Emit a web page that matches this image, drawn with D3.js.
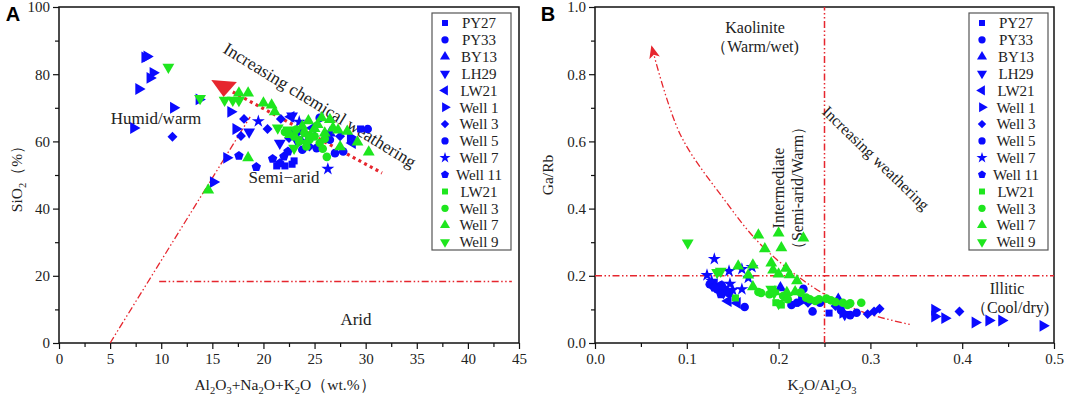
<!DOCTYPE html>
<html>
<head>
<meta charset="utf-8">
<script src="https://cdn.jsdelivr.net/npm/d3@7"></script>
<style>
  body { margin: 0; background: #fff; }
</style>
</head>
<body>
<div id="chart"></div>
<script>
// Legend entries, shared by both panels
const seriesNames = ["PY27", "PY33", "BY13", "LH29", "LW21", "Well 1", "Well 3", "Well 5", "Well 7", "Well 11", "LW21", "Well 3", "Well 7", "Well 9"];
const seriesShapes = ["square", "circle", "up", "down", "left", "right", "diamond", "circle", "star", "pentagon", "square", "circle", "up", "down"];
const seriesColors = ["blue", "blue", "blue", "blue", "blue", "blue", "blue", "blue", "blue", "blue", "green", "green", "green", "green"];

// Panel A: Al2O3+Na2O+K2O (wt.%) vs SiO2 (%)
const aPY27 = [[21.3, 52.7], [22.1, 52.7], [22.8, 53.2], [23.0, 54.2], [29.5, 63.7]];
const aPY33 = [[25.5, 67.0], [27.8, 57.0], [30.2, 63.7], [24.5, 61.0]];
const aBY13 = [[23.8, 63.0], [26.5, 62.5]];
const aLH29 = [[18.6, 62.8], [21.6, 59.5], [22.8, 67.6], [23.2, 60.5]];
const aLW21 = [[22.7, 67.3], [28.7, 59.5], [24.8, 64.0]];
const aWell1 = [[8.4, 85.0], [8.6, 85.3], [9.2, 80.4], [8.9, 78.9], [7.8, 75.6], [7.3, 64.0], [11.2, 70.0], [13.7, 72.5], [16.8, 68.8], [17.3, 63.7], [16.4, 55.1], [15.1, 47.9], [28.5, 61.3], [23.0, 62.0]];
const aWell3 = [[11.1, 61.4], [18.1, 66.7], [17.8, 61.6], [20.4, 63.7], [21.7, 66.7], [27.5, 61.5], [24.5, 58.5], [22.5, 61.0]];
const aWell5 = [[27.0, 56.5], [26.5, 60.5], [25.2, 58.0], [23.8, 57.5]];
const aWell7 = [[19.5, 66.0], [23.5, 65.8], [26.3, 51.8], [23.8, 60.0]];
const aWell11 = [[17.6, 55.7], [19.3, 52.4], [20.9, 54.8], [22.0, 55.5], [22.4, 57.0], [21.6, 53.5]];
const aGLW21 = [[23.5, 60.5]];
const aGWell3 = [[22.1, 62.8], [23.0, 61.5], [23.5, 60.0], [24.0, 62.5], [24.5, 60.5], [25.0, 61.5], [25.5, 59.5], [26.0, 60.8], [24.2, 58.5], [25.8, 57.8], [26.2, 55.4], [23.2, 63.5]];
const aGWell7 = [[14.6, 45.5], [18.5, 55.1], [17.6, 74.4], [18.5, 74.4], [20.0, 71.4], [20.8, 70.8], [21.1, 68.8], [25.7, 67.0], [24.4, 66.1], [26.8, 64.0], [27.3, 63.4], [27.5, 58.4], [29.2, 59.8], [30.3, 56.8], [23.8, 64.5], [25.0, 63.8], [25.3, 65.0], [26.0, 62.5], [24.6, 61.8], [26.5, 66.5], [28.2, 63.0], [22.6, 62.0]];
const aGWell9 = [[10.7, 82.1], [13.8, 72.8], [16.2, 72.3], [17.0, 72.3], [17.6, 72.2], [22.4, 63.4], [21.4, 64.0], [23.0, 58.0], [24.2, 59.5]];

// Panel B: K2O/Al2O3 vs Ga/Rb
const bPY27 = [[0.255, 0.089]];
const bPY33 = [[0.163, 0.107], [0.214, 0.113], [0.237, 0.094], [0.268, 0.097], [0.227, 0.161], [0.278, 0.083]];
const bBY13 = [[0.202, 0.164], [0.265, 0.130]];
const bLH29 = [[0.136, 0.160], [0.140, 0.150], [0.272, 0.085]];
const bLW21 = [[0.155, 0.119], [0.145, 0.125], [0.135, 0.170], [0.130, 0.175]];
const bWell1 = [[0.370, 0.099], [0.370, 0.079], [0.381, 0.074], [0.414, 0.061], [0.429, 0.067], [0.443, 0.067], [0.488, 0.051], [0.225, 0.125], [0.270, 0.090]];
const bWell3 = [[0.310, 0.102], [0.304, 0.094], [0.297, 0.086], [0.397, 0.094], [0.128, 0.168], [0.140, 0.155], [0.232, 0.120], [0.262, 0.110]];
const bWell5 = [[0.125, 0.175], [0.133, 0.160], [0.142, 0.158], [0.146, 0.148], [0.138, 0.172], [0.220, 0.120], [0.245, 0.120], [0.285, 0.090]];
const bWell7 = [[0.130, 0.250], [0.122, 0.202], [0.146, 0.214], [0.160, 0.220], [0.171, 0.226], [0.167, 0.194], [0.147, 0.176], [0.150, 0.158], [0.160, 0.160], [0.127, 0.185]];
const bWell11 = [[0.130, 0.165], [0.137, 0.145]];
const bGLW21 = [[0.153, 0.134], [0.203, 0.113], [0.197, 0.120]];
const bGWell3 = [[0.181, 0.149], [0.178, 0.152], [0.224, 0.150], [0.234, 0.130], [0.240, 0.125], [0.244, 0.130], [0.252, 0.132], [0.257, 0.127], [0.262, 0.122], [0.270, 0.120], [0.278, 0.118], [0.290, 0.120], [0.190, 0.145], [0.205, 0.140], [0.210, 0.130], [0.230, 0.135], [0.275, 0.113]];
const bGWell7 = [[0.178, 0.321], [0.200, 0.327], [0.227, 0.312], [0.185, 0.280], [0.203, 0.283], [0.192, 0.238], [0.172, 0.232], [0.156, 0.229], [0.167, 0.202], [0.194, 0.217], [0.200, 0.205], [0.208, 0.222], [0.212, 0.203], [0.220, 0.185], [0.172, 0.167], [0.209, 0.150], [0.218, 0.152], [0.196, 0.152]];
const bGWell9 = [[0.101, 0.298], [0.137, 0.214], [0.133, 0.210], [0.192, 0.160], [0.195, 0.148], [0.200, 0.118]];

// Guide lines (in data units)
const aDiagonal = [[5, 0], [18.7, 67.3]];
const aArid = [[9.8, 18.3], [44.3, 18.3]];
const aTrend = [[17.0, 74.7], [31.6, 50.6]];
const aArrowHead = [[14.9, 78.3], [17.4, 77.7], [16.1, 73.2]];
const bCurve = [[0.062, 0.88], [0.093, 0.62], [0.14, 0.43], [0.178, 0.30], [0.22, 0.20], [0.26, 0.13], [0.30, 0.085], [0.345, 0.054]];

const aTicksX = [0, 5, 10, 15, 20, 25, 30, 35, 40, 45];
const aTicksY = [0, 20, 40, 60, 80, 100];
const bTicksX = [0, 0.1, 0.2, 0.3, 0.4, 0.5];
const bTicksY = [0, 0.2, 0.4, 0.6, 0.8, 1.0];

const panelA = [aPY27, aPY33, aBY13, aLH29, aLW21, aWell1, aWell3, aWell5, aWell7, aWell11, aGLW21, aGWell3, aGWell7, aGWell9];
const panelB = [bPY27, bPY33, bBY13, bLH29, bLW21, bWell1, bWell3, bWell5, bWell7, bWell11, bGLW21, bGWell3, bGWell7, bGWell9];

const width = 1065, height = 397;
const red = "#e6262e";
const serif = "Liberation Serif";
const colorOf = { blue: "#0a0aff", green: "#1ee61e" };
const dashDotDot = "7,2.5,1.5,2.5,1.5,2.5";

const svg = d3.select("#chart").append("svg")
  .attr("width", width)
  .attr("height", height)
  .attr("viewBox", [0, 0, width, height])
  .style("font-family", serif);

// Marker shapes
const pentagon = {
  draw(ctx, size) {
    const r = Math.sqrt(size / 2.3776);
    for (let i = 0; i < 5; i++) {
      const a = -Math.PI / 2 + i * 2 * Math.PI / 5;
      i ? ctx.lineTo(r * Math.cos(a), r * Math.sin(a)) : ctx.moveTo(r * Math.cos(a), r * Math.sin(a));
    }
    ctx.closePath();
  }
};
function markerPath(shape, k) {
  const s = k * 58;
  if (shape === "square") return d3.symbol(d3.symbolSquare, s * 0.85)();
  if (shape === "circle") return d3.symbol(d3.symbolCircle, s)();
  if (shape === "diamond") return d3.symbol(d3.symbolSquare, s * 0.85)();
  if (shape === "star") return d3.symbol(d3.symbolStar, s * 0.9)();
  if (shape === "pentagon") return d3.symbol(pentagon, s)();
  return d3.symbol(d3.symbolTriangle, s * 1.05)();
}
const rotation = { down: 180, left: -90, right: 90, diamond: 45 };

function label(g, x, y, str, size, rot) {
  return g.append("text")
    .attr("transform", `translate(${x},${y})` + (rot ? ` rotate(${rot})` : ""))
    .attr("dy", "0.35em")
    .attr("text-anchor", "middle")
    .attr("font-family", serif)
    .attr("font-size", size)
    .attr("fill", "#222")
    .text(str);
}

function drawPanel(opts) {
  const { x, y, data, ticksX, ticksY, minorX, minorY, fmt, legendX } = opts;
  const g = svg.append("g");
  const [x0, x1] = x.range(), [y0, y1] = y.range();

  // frame
  g.append("rect")
    .attr("x", x0).attr("y", y1)
    .attr("width", x1 - x0).attr("height", y0 - y1)
    .attr("fill", "none").attr("stroke", "#111").attr("stroke-width", 1.5);

  // axes (major + minor ticks, domain drawn by the frame)
  g.append("g").attr("transform", `translate(0,${y0})`)
    .call(d3.axisBottom(x).tickValues(ticksX).tickFormat(fmt).tickSize(6).tickPadding(4))
    .call(a => a.select(".domain").remove());
  g.append("g").attr("transform", `translate(0,${y0})`)
    .call(d3.axisBottom(x).tickValues(minorX).tickFormat("").tickSize(4))
    .call(a => a.select(".domain").remove());
  g.append("g").attr("transform", `translate(${x0},0)`)
    .call(d3.axisLeft(y).tickValues(ticksY).tickFormat(fmt).tickSize(6).tickPadding(3))
    .call(a => a.select(".domain").remove());
  g.append("g").attr("transform", `translate(${x0},0)`)
    .call(d3.axisLeft(y).tickValues(minorY).tickFormat("").tickSize(4))
    .call(a => a.select(".domain").remove());
  g.selectAll(".tick line").attr("stroke", "#111").attr("stroke-width", 1.2);
  g.selectAll(".tick text")
    .attr("font-family", serif).attr("font-size", 15).attr("fill", "#222");

  opts.guides(g);

  // points
  data.forEach((pts, i) => {
    const shape = seriesShapes[i];
    g.append("g").selectAll("path")
      .data(pts)
      .join("path")
      .attr("d", markerPath(shape, 1))
      .attr("fill", colorOf[seriesColors[i]])
      .attr("transform", d => `translate(${x(d[0])},${y(d[1])}) rotate(${rotation[shape] || 0})`);
  });

  // legend
  const lg = g.append("g");
  lg.append("rect")
    .attr("x", legendX).attr("y", 13).attr("width", 79).attr("height", 237)
    .attr("fill", "#fff").attr("stroke", "#555").attr("stroke-width", 1.2);
  seriesNames.forEach((name, i) => {
    const cy = 23 + i * 16.85;
    const shape = seriesShapes[i];
    lg.append("path")
      .attr("d", markerPath(shape, 0.72))
      .attr("fill", colorOf[seriesColors[i]])
      .attr("transform", `translate(${legendX + 13},${cy}) rotate(${rotation[shape] || 0})`);
    label(lg, legendX + 47, cy, name, 15);
  });
  return g;
}

// ---------- Panel A ----------
const xA = d3.scaleLinear([0, 45], [59, 519]);
const yA = d3.scaleLinear([0, 100], [343, 7]);
const lineA = d3.line().x(d => xA(d[0])).y(d => yA(d[1]));

drawPanel({
  x: xA, y: yA, data: panelA,
  ticksX: aTicksX, ticksY: aTicksY,
  minorX: d3.range(2.5, 45, 5), minorY: d3.range(10, 100, 20),
  fmt: d3.format("d"), legendX: 432,
  guides(g) {
    g.append("path").attr("d", lineA(aDiagonal))
      .attr("fill", "none").attr("stroke", red).attr("stroke-width", 1.3).attr("stroke-dasharray", dashDotDot);
    g.append("path").attr("d", lineA(aArid))
      .attr("fill", "none").attr("stroke", red).attr("stroke-width", 1.3).attr("stroke-dasharray", dashDotDot);
    g.append("path").attr("d", lineA(aTrend))
      .attr("fill", "none").attr("stroke", red).attr("stroke-width", 3.2).attr("stroke-dasharray", "3,3.5");
    g.append("path").attr("d", lineA(aArrowHead) + "Z").attr("fill", red);

    label(g, 156, 118, "Humid/warm", 17);
    label(g, 284, 177, "Semi\u2212arid", 17);
    label(g, 356, 319, "Arid", 17);
    label(g, 320, 105, "Increasing chemical weathering", 17.5, 31.6);
  }
});

// ---------- Panel B ----------
const xB = d3.scaleLinear([0, 0.5], [595, 1054]);
const yB = d3.scaleLinear([0, 1], [343, 7]);
const lineB = d3.line().x(d => xB(d[0])).y(d => yB(d[1]));

svg.append("defs").append("marker")
  .attr("id", "arrowB")
  .attr("viewBox", "0 0 12 10")
  .attr("refX", 10).attr("refY", 5)
  .attr("markerWidth", 13).attr("markerHeight", 11)
  .attr("markerUnits", "userSpaceOnUse")
  .attr("orient", "auto-start-reverse")
  .append("path").attr("d", "M0,0L12,5L0,10L3,5Z").attr("fill", red);

drawPanel({
  x: xB, y: yB, data: panelB,
  ticksX: bTicksX, ticksY: bTicksY,
  minorX: d3.range(0.05, 0.5, 0.1), minorY: d3.range(0.1, 1, 0.2),
  fmt: d3.format(".1f"), legendX: 969,
  guides(g) {
    g.append("path").attr("d", lineB([[0.25, 0], [0.25, 1]]))
      .attr("fill", "none").attr("stroke", red).attr("stroke-width", 1.5).attr("stroke-dasharray", dashDotDot);
    g.append("path").attr("d", lineB([[0, 0.2], [0.5, 0.2]]))
      .attr("fill", "none").attr("stroke", red).attr("stroke-width", 1.5).attr("stroke-dasharray", dashDotDot);
    g.append("path").attr("d", lineB.curve(d3.curveCatmullRom)(bCurve))
      .attr("fill", "none").attr("stroke", red).attr("stroke-width", 1.3)
      .attr("stroke-dasharray", dashDotDot)
      .attr("marker-start", "url(#arrowB)");

    label(g, 755, 27, "Kaolinite", 16);
    label(g, 755, 46, "\uff08Warm/wet)", 16);
    label(g, 778, 188, "Intermediate", 16, -90);
    label(g, 797, 188, "\uff08Semi-arid/Warm\uff09", 16, -90);
    label(g, 876, 158, "Increasing weathering", 16, 44);
    label(g, 1007, 288, "Illitic", 16);
    label(g, 1010, 307, "\uff08Cool/dry)", 16);
  }
});

// ---------- Axis titles & panel letters ----------
// parts: [text, isSubscript]
function chemTitle(x, y, rot, parts) {
  const t = svg.append("text")
    .attr("transform", `translate(${x},${y})` + (rot ? ` rotate(${rot})` : ""))
    .attr("text-anchor", "middle")
    .attr("font-family", serif)
    .attr("font-size", 15.5)
    .attr("fill", "#222");
  let shifted = false;
  parts.forEach(([str, sub]) => {
    const ts = t.append("tspan").text(str);
    if (sub && !shifted) { ts.attr("dy", 4).attr("font-size", 10.5); shifted = true; }
    else if (sub) ts.attr("font-size", 10.5);
    else if (shifted) { ts.attr("dy", -4); shifted = false; }
  });
  return t;
}

chemTitle(285, 390, 0, [["Al"], ["2", 1], ["O"], ["3", 1], ["+Na"], ["2", 1], ["O+K"], ["2", 1], ["O\uff08wt.%\uff09"]]);
chemTitle(22, 175, -90, [["SiO"], ["2", 1], ["\uff08%\uff09"]]);
chemTitle(822, 390, 0, [["K"], ["2", 1], ["O/Al"], ["2", 1], ["O"], ["3", 1]]);
chemTitle(553, 175, -90, [["Ga/Rb"]]);

svg.append("text").attr("x", 13).attr("y", 21).attr("text-anchor", "middle")
  .style("font-family", "Liberation Sans").attr("font-weight", "bold").attr("font-size", 20).text("A");
svg.append("text").attr("x", 548).attr("y", 21).attr("text-anchor", "middle")
  .style("font-family", "Liberation Sans").attr("font-weight", "bold").attr("font-size", 20).text("B");
</script>
</body>
</html>
